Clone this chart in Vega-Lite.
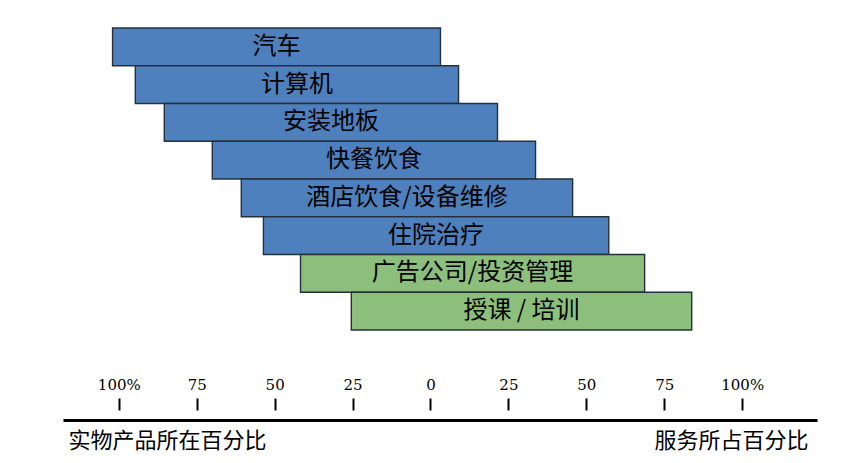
{
  "$schema": "https://vega.github.io/schema/vega-lite/v6.json",
  "width": 754,
  "height": 420,
  "autosize": {"type": "none"},
  "padding": {"left": 63, "top": 0, "right": 27, "bottom": 43},
  "background": "white",
  "config": {"view": {"stroke": null}},
  "data": {
    "values": [
      {"name": "汽车", "start": -102, "end": 3.2, "group": "product"},
      {"name": "计算机", "start": -94.7, "end": 9, "group": "product"},
      {"name": "安装地板", "start": -85.4, "end": 21.5, "group": "product"},
      {"name": "快餐饮食", "start": -70, "end": 33.7, "group": "product"},
      {"name": "酒店饮食/设备维修", "start": -60.7, "end": 45.6, "group": "product"},
      {"name": "住院治疗", "start": -53.6, "end": 57.2, "group": "product"},
      {"name": "广告公司/投资管理", "start": -41.7, "end": 68.7, "group": "service"},
      {"name": "授课 / 培训", "start": -25.4, "end": 83.8, "group": "service"}
    ]
  },
  "transform": [{"calculate": "(datum.start + datum.end) / 2", "as": "mid"}],
  "encoding": {
    "y": {
      "field": "name",
      "type": "nominal",
      "sort": null,
      "scale": {"range": [28, 330], "paddingInner": 0, "paddingOuter": 0},
      "axis": null
    }
  },
  "layer": [
    {
      "mark": {"type": "bar", "stroke": "#26303c", "strokeWidth": 1.4},
      "encoding": {
        "x": {
          "field": "start",
          "type": "quantitative",
          "scale": {"domain": [-117.9, 124], "nice": false, "zero": false},
          "axis": {
            "orient": "top",
            "offset": -410,
            "values": [-100, -75, -50, -25, 0, 25, 50, 75, 100],
            "labelExpr": "abs(datum.value) == 100 ? '100%' : '' + abs(datum.value)",
            "domain": false,
            "grid": false,
            "ticks": true,
            "tickSize": 12,
            "tickWidth": 2,
            "tickColor": "black",
            "labelFont": "DejaVu Serif",
            "labelFontSize": 15,
            "labelColor": "black",
            "labelPadding": 6,
            "labelFlush": false,
            "title": "服务所占百分比",
            "titleFont": "Noto Sans CJK SC",
            "titleFontSize": 22,
            "titleFontWeight": "normal",
            "titleColor": "black",
            "titleAlign": "right",
            "titleBaseline": "middle",
            "titleX": 745,
            "titleY": 30
          }
        },
        "x2": {"field": "end"},
        "color": {
          "field": "group",
          "type": "nominal",
          "scale": {"domain": ["product", "service"], "range": ["#4F80BE", "#8CBF7C"]},
          "legend": null
        }
      }
    },
    {
      "mark": {"type": "text", "font": "Noto Sans CJK SC", "fontSize": 24, "color": "black", "baseline": "middle"},
      "encoding": {
        "x": {
          "field": "mid",
          "type": "quantitative",
          "scale": {"domain": [-117.9, 124], "nice": false, "zero": false},
          "axis": {
            "orient": "bottom",
            "domain": true,
            "domainColor": "black",
            "domainWidth": 3,
            "ticks": false,
            "labels": false,
            "grid": false,
            "title": "实物产品所在百分比",
            "titleFont": "Noto Sans CJK SC",
            "titleFontSize": 22,
            "titleFontWeight": "normal",
            "titleColor": "black",
            "titleAlign": "left",
            "titleBaseline": "middle",
            "titleX": 5,
            "titleY": 20
          }
        },
        "text": {"field": "name"}
      }
    }
  ],
  "resolve": {"axis": {"x": "independent"}}
}
